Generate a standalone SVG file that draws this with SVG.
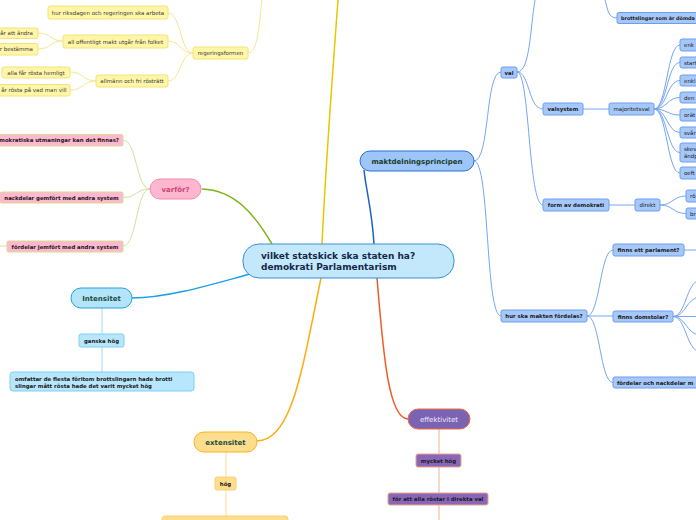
<svg xmlns="http://www.w3.org/2000/svg" width="696" height="520" viewBox="0 0 696 520">
<style>
text{font-family:"DejaVu Sans","Liberation Sans",sans-serif;fill:#1a1a1a}
.s{font-size:5.5px}
.sb{font-size:5.4px;font-weight:bold}
.h{font-size:7px;font-weight:bold;text-anchor:middle}
.m{text-anchor:middle}
.e{text-anchor:end}
.c path,.c line{fill:none}
.yl{stroke:#f5e88c;stroke-width:1}
.gl{stroke:#cfe39a;stroke-width:1}
.bl{stroke:#75a6ef;stroke-width:1}
.il{stroke:#b0dff7;stroke-width:1.2}
.ol{stroke:#fde2a6;stroke-width:1.2}
.rl{stroke:#f9bca6;stroke-width:1.2}
.yn{fill:#fff6a8;stroke:#f3e27a;stroke-width:1}
.pn{fill:#ffb8cf;stroke:#d8dc90;stroke-width:1}
.bn{fill:#a6c8f8;stroke:#6a9ef0;stroke-width:1}
.in{fill:#b8e6fc;stroke:#7ccff5;stroke-width:1}
.on{fill:#fedd8e;stroke:#fbd070;stroke-width:1}
.vn{fill:#8866b8;stroke:#f5a088;stroke-width:1}
</style>
<rect width="696" height="520" fill="#ffffff"/>
<g id="connectors" class="c">
  <path d="M322,244 C326,160 332,80 338,0" stroke="#e6c700" stroke-width="1.5"/>
  <path d="M272,244 C255,215 235,190 202,189" stroke="#7cb518" stroke-width="1.5"/>
  <path d="M250,274 C220,282 170,298 132,298" stroke="#1aa0e8" stroke-width="1.5"/>
  <path d="M321,278 C302,370 292,441 257,441" stroke="#f8ae10" stroke-width="1.5"/>
  <path d="M377,278 C383,350 388,419 408,419" stroke="#f0592a" stroke-width="1.5"/>
  <path d="M374,244 C372,210 366,190 364,170" stroke="#1f5fc8" stroke-width="1.5"/>
  <path class="yl" d="M248,53 C258,53 259,25 262,0"/>
  <path class="yl" d="M193,53 C180,53 181,13 168,13"/>
  <path class="yl" d="M193,53 C180,53 181,41 168,41"/>
  <path class="yl" d="M193,53 C180,53 181,81 168,81"/>
  <path class="yl" d="M63,41 C50,41 51,33 38,33"/>
  <path class="yl" d="M63,41 C50,41 51,49 38,49"/>
  <path class="yl" d="M96,81 C83,81 84,72 70,72"/>
  <path class="yl" d="M96,81 C83,81 84,90 70,90"/>
  <path class="gl" d="M150,189 C136,189 137,140 123,140"/>
  <path class="gl" d="M150,189 C136,189 137,197.5 123,197.5"/>
  <path class="gl" d="M150,189 C136,189 137,246 123,246"/>
  <path class="gl" d="M0,246 L7,246"/>
  <line class="il" x1="102" y1="308" x2="102" y2="334"/>
  <line class="il" x1="102" y1="347" x2="102" y2="372"/>
  <line class="ol" x1="226" y1="452" x2="226" y2="477"/>
  <line class="ol" x1="226" y1="490" x2="226" y2="516"/>
  <line class="rl" x1="439" y1="429" x2="439" y2="454"/>
  <line class="rl" x1="439" y1="467" x2="439" y2="493"/>
  <line class="rl" x1="439" y1="505" x2="439" y2="520"/>
  <path class="bl" d="M474,161 C490,161 485,72 501,72"/>
  <path class="bl" d="M474,161 C490,161 485,316 501,316"/>
  <path class="bl" d="M517,72 C530,72 528,109 543,109"/>
  <path class="bl" d="M517,72 C530,72 528,205 543,205"/>
  <path class="bl" d="M517,72 C530,72 530,30 535,0"/>
  <path class="bl" d="M605,0 C608,10 608,18 617,18"/>
  <path class="bl" d="M583,109 L609,109"/>
  <path class="bl" d="M654,109 C667,109 667,45 680,45"/>
  <path class="bl" d="M654,109 C667,109 667,62.5 680,62.5"/>
  <path class="bl" d="M654,109 C667,109 667,80.5 680,80.5"/>
  <path class="bl" d="M654,109 C667,109 667,97.5 680,97.5"/>
  <path class="bl" d="M654,109 C667,109 667,115 680,115"/>
  <path class="bl" d="M654,109 C667,109 667,132.5 680,132.5"/>
  <path class="bl" d="M654,109 C667,109 667,152.5 680,152.5"/>
  <path class="bl" d="M654,109 C667,109 667,173 680,173"/>
  <path class="bl" d="M609,205 L635,205"/>
  <path class="bl" d="M660,205 C673,205 673,196 686,196"/>
  <path class="bl" d="M660,205 C673,205 673,213.5 686,213.5"/>
  <path class="bl" d="M587,316 C600,316 600,250 613,250"/>
  <path class="bl" d="M587,316 L613,316"/>
  <path class="bl" d="M587,316 C600,316 600,382.5 613,382.5"/>
  <path class="bl" d="M684,250 L698,250"/>
  <path class="bl" d="M673,316.5 C686,316.5 686,282 700,280"/>
  <path class="bl" d="M673,316.5 C686,316.5 686,298 700,297"/>
  <path class="bl" d="M673,316.5 L700,316.5"/>
  <path class="bl" d="M673,316.5 C686,316.5 686,334 700,335"/>
  <path class="bl" d="M673,316.5 C686,316.5 686,350 700,352"/>
</g>

<g id="central">
  <rect x="243" y="244" width="211" height="34" rx="16" fill="#c4e8fb" stroke="#3a8fd8" stroke-width="1"/>
  <text x="261" y="259" style="font-size:9px;font-weight:bold;fill:#13294b">vilket statskick ska staten ha?</text>
  <text x="261" y="270" style="font-size:9px;font-weight:bold;fill:#13294b">demokrati Parlamentarism</text>
</g>

<g id="regeringsformen"><rect class="yn" x="193" y="47" width="55" height="12" rx="2"/><text class="s m" x="220.5" y="55" style="fill:#3a3a3a">regeringsformen</text></g>
<g id="hur-riksdagen"><rect class="yn" x="48" y="6" width="120" height="13" rx="2"/><text class="s m" x="108" y="14.5" style="fill:#3a3a3a">hur riksdagen och regeringen ska arbeta</text></g>
<g id="all-offentligt"><rect class="yn" x="63" y="35" width="105" height="13" rx="2"/><text class="s m" x="115.5" y="43.5" style="fill:#3a3a3a">all offentligt makt utgår från folket</text></g>
<g id="andra"><rect class="yn" x="-10" y="28" width="48" height="10.5" rx="2"/><text class="s e" x="33" y="35.2" style="fill:#3a3a3a">går att ändra</text></g>
<g id="bestamma"><rect class="yn" x="-10" y="43.5" width="48" height="11.5" rx="2"/><text class="s e" x="33" y="51.3" style="fill:#3a3a3a">r bestämma</text></g>
<g id="allmann"><rect class="yn" x="96" y="75" width="72" height="12" rx="2"/><text class="s m" x="132" y="83" style="fill:#3a3a3a">allmänn och fri rösträtt</text></g>
<g id="hemligt"><rect class="yn" x="2" y="67" width="68" height="11" rx="2"/><text class="s m" x="36" y="74.5" style="fill:#3a3a3a">alla får rösta  hemligt</text></g>
<g id="vad-man-vill"><rect class="yn" x="-10" y="84.5" width="80" height="11.5" rx="2"/><text class="s e" x="66.5" y="92.2" style="fill:#3a3a3a">år rösta på vad man vill</text></g>

<g id="varfor"><rect x="150" y="179" width="51" height="20" rx="10" fill="#ffb6cf" stroke="#f08cb0" stroke-width="1"/><text class="h" x="175.5" y="191.5" style="fill:#c84876">varför?</text></g>
<g id="utmaningar"><rect class="pn" x="-10" y="134.5" width="133" height="11.5" rx="1.5"/><text class="sb e" x="119" y="142.2">mokratiska utmaningar kan det finnas?</text></g>
<g id="nackdelar"><rect class="pn" x="0" y="192" width="123" height="11" rx="1.5"/><text class="sb m" x="61.5" y="199.5">nackdelar gemfört med andra system</text></g>
<g id="fordelar"><rect class="pn" x="7" y="241" width="116" height="11" rx="1.5"/><text class="sb m" x="65" y="248.5">fördelar jemfört med andra system</text></g>

<g id="intensitet"><rect x="71" y="288" width="61" height="20" rx="10" fill="#b3e4fa" stroke="#22a0e4" stroke-width="1"/><text class="h" x="101.5" y="300.5" style="fill:#1d4d3d">Intensitet</text></g>
<g id="ganska-hog"><rect class="in" x="79" y="334" width="45" height="13" rx="2"/><text class="sb m" x="101.5" y="342.5">ganska hög</text></g>
<g id="omfattar"><rect class="in" x="10" y="372" width="184" height="19" rx="3"/><text class="sb" x="15" y="380.5">omfattar de flesta föritom brottslingarn hade brotti</text><text class="sb" x="15" y="387.5"> slingar mått rösta hade det varit mycket hög</text></g>

<g id="extensitet"><rect x="194" y="432" width="63" height="20" rx="10" fill="#fedd8e" stroke="#f8b61c" stroke-width="1"/><text class="h" x="225.5" y="444.5" style="fill:#1d4d3d">extensitet</text></g>
<g id="hog"><rect class="on" x="215" y="477" width="21" height="13" rx="2"/><text class="sb m" x="225.5" y="485.5">hög</text></g>
<g id="extensitet-child"><rect class="on" x="162" y="516" width="126" height="12" rx="3"/></g>

<g id="effektivitet"><rect x="408" y="409" width="62" height="20" rx="10" fill="#7b63b3" stroke="#f26840" stroke-width="1"/><text class="m" x="439" y="421.5" style="font-size:7px;fill:#f0e8ff">effektivitet</text></g>
<g id="mycket-hog"><rect class="vn" x="416" y="454" width="45" height="13" rx="2"/><text class="sb m" x="438.5" y="462.5">mycket hög</text></g>
<g id="direkta-val"><rect class="vn" x="388" y="493" width="100" height="12" rx="2"/><text class="sb m" x="438" y="501">för att alla röstar i direkta val</text></g>

<g id="maktdelningsprincipen"><rect x="360" y="151" width="114" height="20" rx="10" fill="#9ec5f8" stroke="#2a6fd6" stroke-width="1"/><text class="h" x="417" y="163.5" style="fill:#1a3a2a">maktdelningsprincipen</text></g>
<g id="val"><rect class="bn" x="501" y="67" width="16" height="11" rx="2"/><text class="sb m" x="509" y="74.5">val</text></g>
<g id="brottslingar"><rect class="bn" x="617" y="12.5" width="90" height="11" rx="2"/><text x="621" y="19.8" style="font-size:4.9px;font-weight:bold">brottslingar som är dömda</text></g>
<g id="valsystem"><rect class="bn" x="543" y="103" width="40" height="12" rx="2"/><text class="sb m" x="563" y="111">valsystem</text></g>
<g id="majoritetsval"><rect class="bn" x="609" y="103" width="45" height="12" rx="2"/><text class="s m" x="631.5" y="111">majoritetsval</text></g>
<g id="mv1"><rect class="bn" x="680" y="39" width="30" height="12" rx="2"/><text class="s" x="684" y="47">enk</text></g>
<g id="mv2"><rect class="bn" x="680" y="57" width="30" height="11" rx="2"/><text class="s" x="684" y="64.5">start</text></g>
<g id="mv3"><rect class="bn" x="680" y="75" width="30" height="11" rx="2"/><text class="s" x="684" y="82.5">enkl</text></g>
<g id="mv4"><rect class="bn" x="680" y="92" width="30" height="11" rx="2"/><text class="s" x="684" y="99.5">den</text></g>
<g id="mv5"><rect class="bn" x="680" y="109" width="30" height="12" rx="2"/><text class="s" x="684" y="117">orät</text></g>
<g id="mv6"><rect class="bn" x="680" y="127" width="30" height="11" rx="2"/><text class="s" x="684" y="134.5">svår</text></g>
<g id="mv7"><rect class="bn" x="680" y="143" width="30" height="19" rx="2"/><text class="s" x="684" y="151">skev</text><text class="s" x="684" y="158">ändp</text></g>
<g id="mv8"><rect class="bn" x="680" y="167" width="30" height="12" rx="2"/><text class="s" x="684" y="175">oeft</text></g>
<g id="form-av-demokrati"><rect class="bn" x="543" y="199" width="66" height="12" rx="2"/><text class="sb m" x="576" y="207">form av demokrati</text></g>
<g id="direkt"><rect class="bn" x="635" y="199" width="25" height="12" rx="2"/><text class="s m" x="647.5" y="207">direkt</text></g>
<g id="ro"><rect class="bn" x="686" y="190" width="20" height="12" rx="2"/><text class="s" x="690" y="198">rö</text></g>
<g id="br"><rect class="bn" x="686" y="208" width="20" height="11" rx="2"/><text class="s" x="690" y="215.5">br</text></g>
<g id="hur-ska-makten"><rect class="bn" x="501" y="310" width="86" height="12" rx="2"/><text class="sb m" x="544" y="318">hur ska makten fördelas?</text></g>
<g id="parlament"><rect class="bn" x="613" y="244" width="71" height="12" rx="2"/><text class="sb m" x="648.5" y="252">finns ett parlament?</text></g>
<g id="domstolar"><rect class="bn" x="613" y="311" width="60" height="11" rx="2"/><text class="sb m" x="643" y="318.5">finns domstolar?</text></g>
<g id="fordelar-nackdelar"><rect class="bn" x="613" y="377" width="90" height="11" rx="2"/><text class="sb" x="617" y="384.5">fördelar och nackdelar m</text></g>
</svg>
